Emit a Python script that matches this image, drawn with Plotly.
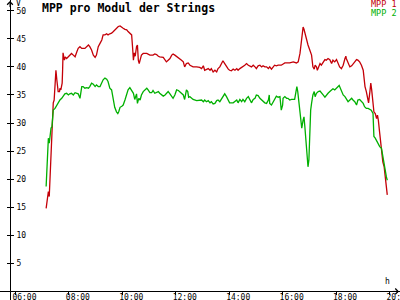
import plotly.graph_objects as go

DAY = "2024-06-01 "

title_text = "MPP pro Modul der Strings"
series_names = ["MPP 1", "MPP 2"]
series_colors = ["#c40008", "#00b000"]
y_unit = "V"
x_unit = "h"

mpp1_times = ["07:09", "07:12", "07:14", "07:16", "07:18", "07:20", "07:22", "07:25", "07:27", "07:30",
              "07:31", "07:33", "07:35", "07:36", "07:39", "07:40", "07:42", "07:45", "07:46", "07:47",
              "07:50", "07:52", "07:55", "07:59", "08:02", "08:06", "08:10", "08:14", "08:18", "08:21",
              "08:25", "08:29", "08:36", "08:40", "08:44", "08:47", "08:51", "08:55", "08:59", "09:02",
              "09:06", "09:10", "09:14", "09:17", "09:21", "09:25", "09:28", "09:32", "09:36", "09:40",
              "09:43", "09:47", "09:51", "09:55", "09:59", "10:02", "10:06", "10:10", "10:13", "10:17",
              "10:21", "10:23", "10:25", "10:27", "10:29", "10:32", "10:34", "10:36", "10:38", "10:40",
              "10:43", "10:47", "10:55", "11:02", "11:09", "11:13", "11:17", "11:21", "11:24", "11:32",
              "11:36", "11:39", "11:43", "11:47", "11:51", "11:54", "11:58", "12:02", "12:09", "12:13",
              "12:17", "12:20", "12:24", "12:28", "12:32", "12:36", "12:39", "12:47", "12:54", "12:58",
              "13:02", "13:05", "13:09", "13:13", "13:17", "13:20", "13:24", "13:28", "13:32", "13:35",
              "13:39", "13:43", "13:46", "13:50", "13:54", "13:58", "14:01", "14:05", "14:09", "14:13",
              "14:17", "14:20", "14:24", "14:28", "14:31", "14:35", "14:39", "14:43", "14:50", "14:54",
              "14:58", "15:01", "15:05", "15:09", "15:13", "15:16", "15:20", "15:24", "15:28", "15:31",
              "15:35", "15:39", "15:42", "15:46", "15:50", "15:57", "16:05", "16:16", "16:24", "16:31",
              "16:35", "16:39", "16:42", "16:46", "16:48", "16:50", "16:54", "16:57", "17:01", "17:05",
              "17:08", "17:11", "17:13", "17:16", "17:18", "17:21", "17:24", "17:27", "17:31", "17:35",
              "17:38", "17:42", "17:46", "17:50", "17:53", "17:57", "18:01", "18:04", "18:08", "18:12",
              "18:16", "18:20", "18:22", "18:23", "18:27", "18:31", "18:35", "18:38", "18:42", "18:46",
              "18:49", "18:53", "18:57", "19:01", "19:03", "19:05", "19:08", "19:11", "19:13", "19:16",
              "19:18", "19:20", "19:22", "19:23", "19:25", "19:28", "19:31", "19:33", "19:35", "19:38",
              "19:40", "19:43", "19:45", "19:48", "19:50", "19:53", "19:55"]
mpp1_values = [14.8, 16.3, 17.8, 16.9, 20.4, 23.4, 26.4, 33.6, 34.1, 38.3,
               39.4, 37.7, 35.9, 35.6, 35.6, 36.2, 35.9, 37.1, 39.4, 42.5,
               41.2, 41.8, 41.5, 41.8, 42.1, 42.4, 42.1, 41.8, 42.7, 43.3,
               43.6, 43.3, 43.3, 43.7, 43.9, 43.6, 43.0, 42.1, 41.7, 42.1,
               43.6, 44.2, 44.8, 45.7, 45.7, 45.9, 45.7, 45.9, 46.0, 46.3,
               46.6, 46.9, 47.2, 47.3, 47.0, 46.9, 46.7, 46.6, 46.3, 46.0,
               45.7, 43.6, 41.2, 42.5, 41.9, 43.6, 43.9, 41.2, 40.6, 41.2,
               42.1, 42.4, 42.4, 42.1, 42.1, 42.3, 42.2, 41.9, 41.8, 41.7,
               41.2, 40.9, 41.2, 41.5, 42.1, 42.3, 42.1, 41.9, 41.5, 41.2,
               40.9, 40.0, 40.6, 40.7, 40.3, 40.2, 40.0, 40.0, 39.9, 39.7,
               40.2, 39.4, 39.6, 39.7, 39.4, 39.7, 39.1, 39.4, 39.1, 39.7,
               40.0, 40.6, 41.1, 40.6, 40.0, 39.6, 39.4, 39.3, 39.6, 39.4,
               39.7, 39.4, 39.7, 39.9, 40.0, 40.3, 40.6, 40.3, 40.0, 40.3,
               40.0, 39.7, 40.2, 40.3, 40.0, 40.2, 40.0, 40.0, 39.7, 40.0,
               39.6, 39.9, 40.3, 40.2, 40.3, 40.3, 40.7, 40.7, 40.9, 40.7,
               40.9, 42.4, 44.8, 47.1, 46.7, 46.0, 44.8, 43.9, 43.0, 42.1,
               40.0, 39.6, 40.3, 40.0, 39.4, 40.0, 40.6, 40.3, 40.9, 41.3,
               41.2, 41.5, 41.3, 40.6, 41.2, 40.9, 41.3, 40.7, 40.0, 39.7,
               40.3, 41.5, 41.9, 41.5, 40.6, 40.0, 40.2, 40.6, 40.9, 41.3,
               41.2, 40.9, 40.3, 39.4, 37.9, 36.5, 35.6, 33.8, 33.6, 35.6,
               37.1, 35.9, 34.1, 32.3, 32.0, 31.7, 30.8, 31.4, 30.5, 28.2,
               26.4, 24.9, 23.1, 22.2, 21.0, 19.3, 17.2]

mpp2_times = ["07:09", "07:10", "07:12", "07:14", "07:16", "07:18", "07:20", "07:22", "07:25", "07:29",
              "07:33", "07:36", "07:40", "07:44", "07:47", "07:51", "07:55", "07:59", "08:02", "08:06",
              "08:10", "08:14", "08:18", "08:21", "08:25", "08:29", "08:32", "08:36", "08:40", "08:44",
              "08:47", "08:51", "08:55", "08:59", "09:02", "09:06", "09:10", "09:14", "09:17", "09:21",
              "09:25", "09:28", "09:32", "09:36", "09:40", "09:43", "09:47", "09:50", "09:52", "09:55",
              "09:59", "10:02", "10:06", "10:10", "10:13", "10:17", "10:21", "10:25", "10:28", "10:32",
              "10:34", "10:37", "10:40", "10:43", "10:47", "10:51", "10:55", "10:58", "11:02", "11:06",
              "11:09", "11:13", "11:17", "11:21", "11:24", "11:28", "11:32", "11:36", "11:39", "11:43",
              "11:47", "11:51", "11:54", "11:58", "12:02", "12:06", "12:09", "12:13", "12:17", "12:20",
              "12:24", "12:27", "12:29", "12:32", "12:36", "12:39", "12:47", "12:54", "12:58", "13:02",
              "13:05", "13:09", "13:13", "13:17", "13:20", "13:24", "13:28", "13:32", "13:35", "13:39",
              "13:43", "13:46", "13:50", "13:54", "13:58", "14:01", "14:09", "14:13", "14:17", "14:20",
              "14:24", "14:28", "14:31", "14:35", "14:39", "14:43", "14:46", "14:50", "14:54", "14:58",
              "15:01", "15:05", "15:09", "15:13", "15:16", "15:20", "15:24", "15:28", "15:30", "15:31",
              "15:35", "15:39", "15:42", "15:46", "15:50", "15:54", "15:57", "16:00", "16:01", "16:05",
              "16:09", "16:12", "16:16", "16:20", "16:27", "16:30", "16:32", "16:34", "16:36", "16:39",
              "16:41", "16:43", "16:46", "16:48", "16:50", "16:52", "16:54", "16:56", "16:57", "16:59",
              "17:01", "17:03", "17:05", "17:08", "17:11", "17:13", "17:16", "17:20", "17:24", "17:27",
              "17:31", "17:35", "17:38", "17:42", "17:46", "17:50", "17:53", "17:57", "18:01", "18:04",
              "18:07", "18:08", "18:12", "18:16", "18:20", "18:23", "18:27", "18:31", "18:35", "18:38",
              "18:42", "18:46", "18:49", "18:53", "18:57", "19:01", "19:04", "19:08", "19:12", "19:16",
              "19:19", "19:23", "19:25", "19:28", "19:31", "19:34", "19:38", "19:42", "19:44", "19:45",
              "19:48", "19:50", "19:53", "19:55"]
mpp2_values = [18.7, 20.7, 24.7, 27.3, 26.4, 28.2, 29.1, 29.3, 32.3, 32.6,
               33.2, 33.5, 34.1, 34.4, 34.7, 35.2, 35.3, 35.0, 35.2, 35.3,
               35.0, 35.4, 35.3, 35.2, 34.4, 36.5, 36.5, 36.2, 36.3, 36.2,
               36.5, 37.1, 36.9, 36.5, 36.8, 36.5, 36.5, 37.1, 37.7, 38.0,
               37.8, 37.4, 36.2, 35.9, 34.1, 32.8, 32.0, 31.7, 32.0, 32.8,
               33.0, 33.2, 34.1, 35.0, 35.9, 36.3, 35.9, 35.3, 34.2, 35.2,
               33.5, 34.4, 34.1, 35.0, 35.6, 35.9, 36.2, 35.9, 35.4, 35.4,
               35.8, 35.3, 35.4, 35.6, 35.3, 35.0, 34.8, 35.0, 35.3, 35.6,
               35.2, 34.8, 34.4, 35.0, 35.9, 35.8, 35.6, 35.3, 35.0, 34.2,
               35.9, 35.6, 34.6, 34.7, 34.4, 34.2, 34.0, 34.0, 34.1, 33.8,
               34.1, 33.8, 34.0, 33.6, 33.8, 33.4, 33.5, 34.0, 34.1, 33.8,
               34.4, 34.8, 35.2, 34.7, 34.1, 33.6, 33.6, 33.8, 34.1, 33.6,
               34.2, 33.8, 34.2, 33.8, 34.4, 34.7, 34.1, 33.6, 34.2, 34.4,
               35.0, 34.9, 34.4, 34.1, 33.8, 33.6, 33.5, 34.1, 35.0, 33.5,
               33.2, 33.8, 34.4, 34.8, 34.6, 34.7, 32.3, 33.2, 34.4, 34.7,
               34.4, 34.4, 34.1, 34.2, 34.2, 36.2, 36.5, 35.6, 34.1, 31.7,
               30.5, 29.1, 30.5, 31.1, 29.3, 27.0, 24.6, 23.1, 22.2, 23.4,
               28.2, 32.3, 33.5, 35.0, 35.6, 34.7, 35.3, 35.6, 35.7, 35.3,
               35.0, 34.6, 35.0, 35.3, 35.6, 35.9, 36.1, 35.9, 36.2, 36.5,
               36.7, 36.5, 35.6, 35.0, 34.7, 34.2, 33.8, 34.1, 34.4, 34.1,
               33.8, 33.2, 34.1, 34.2, 33.8, 33.5, 32.9, 32.6, 32.6, 32.4,
               32.3, 31.7, 27.6, 27.3, 26.8, 26.4, 25.8, 25.5, 24.6, 23.4,
               22.2, 21.3, 20.4, 19.8]

x_tick_labels = ["06:00", "08:00", "10:00", "12:00", "14:00", "16:00", "18:00", "20:00"]
y_tick_values = [5, 10, 15, 20, 25, 30, 35, 40, 45, 50]

X_RANGE = [DAY + "05:25:25", DAY + "20:23:35"]
Y_RANGE = [-1.53, 51.92]
FONT = "DejaVu Sans Mono"
X_AXIS_POS = (0 - Y_RANGE[0]) / (Y_RANGE[1] - Y_RANGE[0])

fig = go.Figure()
for name, color, times, values in [
    (series_names[0], series_colors[0], mpp1_times, mpp1_values),
    (series_names[1], series_colors[1], mpp2_times, mpp2_values),
]:
    fig.add_trace(go.Scatter(
        x=[DAY + t for t in times], y=values, mode="lines", name=name,
        line=dict(color=color, width=1.3), showlegend=False,
    ))

fig.update_layout(
    width=400, height=300,
    margin=dict(l=0, r=0, t=0, b=0),
    paper_bgcolor="white", plot_bgcolor="white",
    font=dict(family=FONT, color="black", size=8),
    xaxis=dict(
        range=X_RANGE, type="date", anchor="free", position=X_AXIS_POS,
        showgrid=False, zeroline=False, showline=True, linecolor="black", linewidth=1,
        ticks="outside", ticklen=3, tickcolor="black", tickwidth=1,
        tickvals=[DAY + t for t in x_tick_labels], ticktext=x_tick_labels,
        ticklabelposition="outside right", ticklabelshift=-4, ticklabelstandoff=-2,
        ticklabeloverflow="allow",
        tickfont=dict(family=FONT, size=8, color="black"), automargin=False,
    ),
    yaxis=dict(
        range=Y_RANGE, anchor="free", position=0.025,
        showgrid=False, zeroline=False, showline=True, linecolor="black", linewidth=1,
        ticks="outside", ticklen=3, tickcolor="black", tickwidth=1,
        tickvals=y_tick_values, ticktext=[str(v) for v in y_tick_values],
        ticklabelposition="inside", ticklabelstandoff=4, ticklabeloverflow="allow",
        tickfont=dict(family=FONT, size=8, color="black"), automargin=False,
    ),
    yaxis2=dict(
        range=Y_RANGE, overlaying="y", anchor="free", position=0.025,
        showgrid=False, zeroline=False, showline=False,
        ticks="inside", ticklen=3, tickcolor="black", tickwidth=1,
        tickvals=y_tick_values, showticklabels=False, automargin=False,
    ),
)

# invisible helper trace so the second y axis (tick crosses) is drawn
fig.add_trace(go.Scatter(x=[X_RANGE[0]], y=[Y_RANGE[0]], yaxis="y2", mode="markers",
                         marker=dict(opacity=0), showlegend=False, hoverinfo="skip"))

annotations = [
    dict(text="<b>" + title_text + "</b>", x=0.1, y=0.973, xref="paper", yref="paper",
         xanchor="left", yanchor="middle", showarrow=False, font=dict(family=FONT, size=11.5, color="black")),
    dict(text=series_names[0], x=0.995, y=0.986, xref="paper", yref="paper",
         xanchor="right", yanchor="middle", showarrow=False, borderpad=0,
         font=dict(family=FONT, size=8.5, color=series_colors[0])),
    dict(text=series_names[1], x=0.995, y=0.958, xref="paper", yref="paper",
         xanchor="right", yanchor="middle", showarrow=False, borderpad=0,
         font=dict(family=FONT, size=8.5, color=series_colors[1])),
    dict(text=y_unit, x=0.045, y=0.988, xref="paper", yref="paper",
         xanchor="center", yanchor="middle", showarrow=False, font=dict(family=FONT, size=8, color="black")),
    dict(text=x_unit, x=0.9675, y=0.061, xref="paper", yref="paper",
         xanchor="center", yanchor="middle", showarrow=False, font=dict(family=FONT, size=8, color="black")),
    dict(text="", x=0.025, y=0.998, xref="paper", yref="paper", ax=0, ay=8,
         showarrow=True, arrowhead=4, arrowsize=1.1, arrowwidth=1, arrowcolor="black"),
    dict(text="", x=0.998, y=X_AXIS_POS, xref="paper", yref="paper", ax=-8, ay=0,
         showarrow=True, arrowhead=4, arrowsize=1.1, arrowwidth=1, arrowcolor="black"),
]
fig.update_layout(annotations=annotations)

fig.write_html("out.html")
